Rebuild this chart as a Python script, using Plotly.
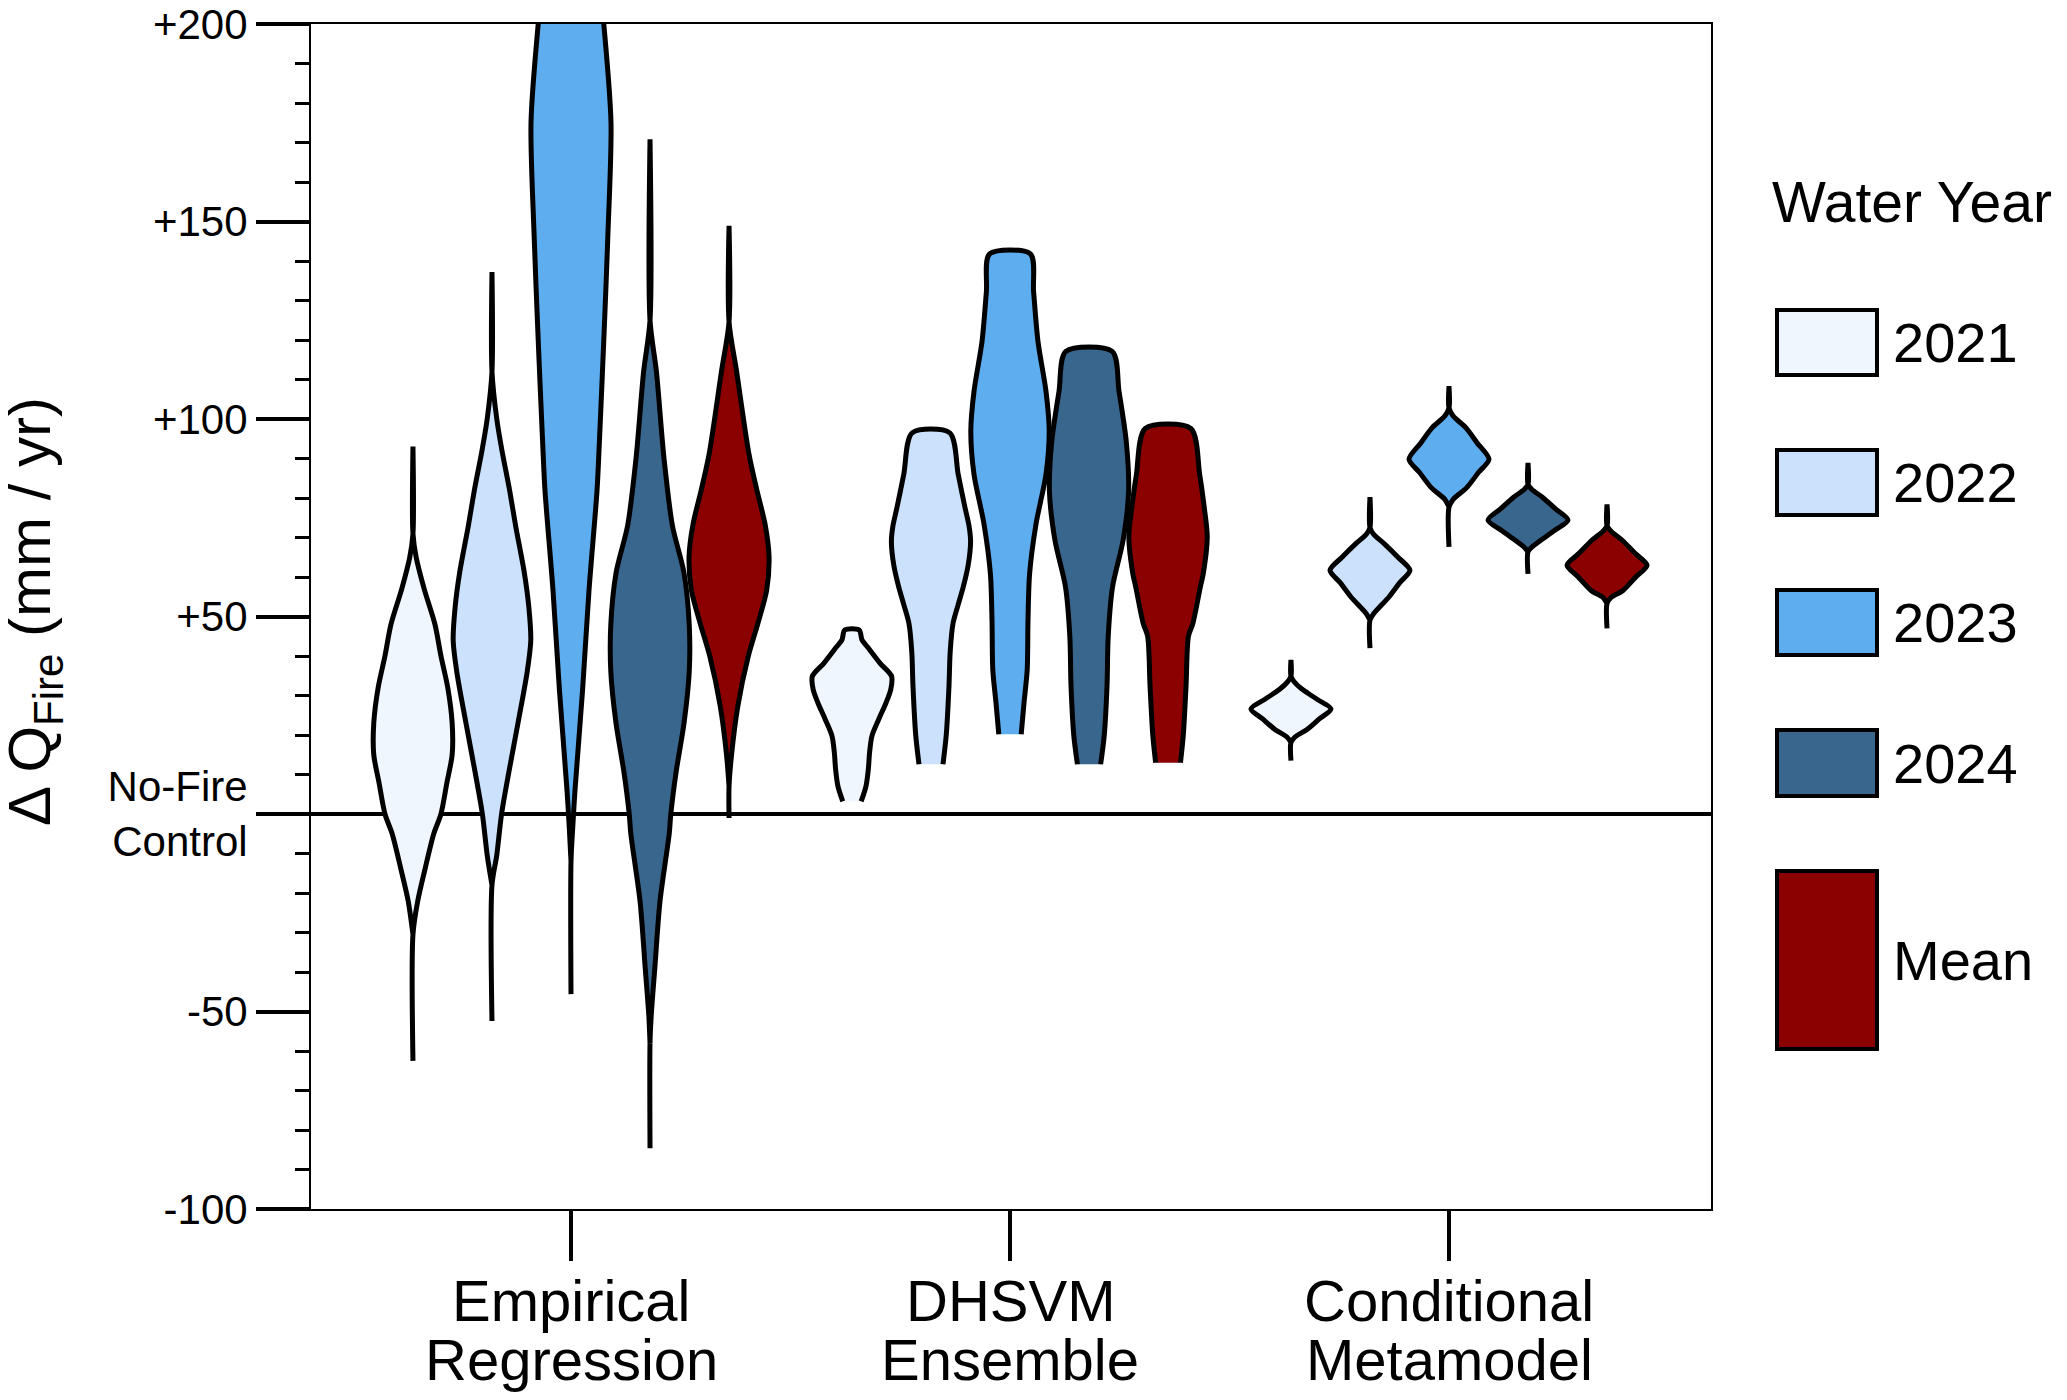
import plotly.graph_objects as go

# groups on the x axis, series inside each group
GROUPS = ["Empirical Regression", "DHSVM Ensemble", "Conditional Metamodel"]
SERIES = ["2021", "2022", "2023", "2024", "Mean"]
COLORS = ["#EFF6FE", "#CCE2FC", "#5EADEE", "#39668D", "#8B0000"]

Y_TICKS = [-100, -50, 0, 50, 100, 150, 200]
Y_TICKTEXT = ["-100", "-50", "No-Fire<br>Control", "+50", "+100", "+150", "+200"]

# violin outlines: y levels (mm/yr) and relative half-width (1 = widest)
# Empirical Regression
ER_2021_Y = [-62.5, -30.5, -22, -14, -5, 0, 8, 15, 23, 32, 40, 48, 57, 65, 71, 93]
ER_2021_W = [0, 0, 0.12, 0.30, 0.52, 0.70, 0.85, 0.98, 0.98, 0.87, 0.70, 0.55, 0.28, 0.08, 0, 0]
ER_2022_Y = [-52.4, -18, -10.4, 0, 10.5, 23, 36, 44, 52.5, 61, 73, 82, 92, 100, 112, 137.2]
ER_2022_W = [0, 0, 0.12, 0.24, 0.42, 0.65, 0.88, 0.97, 0.92, 0.81, 0.59, 0.44, 0.25, 0.12, 0, 0]
ER_2023_Y = [-45.6, -12, -4, 6, 31.5, 56.6, 81.8, 92, 120, 146, 175, 200, 220, 245]
ER_2023_W = [0, 0, 0.04, 0.10, 0.29, 0.45, 0.65, 0.70, 0.82, 0.92, 1.0, 0.82, 0.62, 0]
ER_2024_Y = [-84.6, -58, -51, -39, -22, -5, 0, 10.5, 23, 36, 48, 61, 73, 90, 112, 125, 170.8]
ER_2024_W = [0, 0, 0.03, 0.12, 0.25, 0.48, 0.52, 0.65, 0.85, 0.98, 0.98, 0.85, 0.56, 0.35, 0.16, 0, 0]
ER_MEAN_Y = [-1, 7, 14.7, 27.3, 39.9, 48.2, 56.6, 65.1, 73.4, 81.8, 91, 112, 124.6, 148.9]
ER_MEAN_W = [0, 0, 0.06, 0.22, 0.48, 0.72, 0.94, 1.0, 0.90, 0.70, 0.50, 0.19, 0, 0]

# DHSVM Ensemble (cut at the data range)
DH_2021_Y = [3.2, 7, 11.4, 15.5, 19.8, 24, 28.1, 31.5, 34.9, 38.2, 42.4, 44.1, 46.6]
DH_2021_W = [0.23, 0.35, 0.41, 0.44, 0.50, 0.67, 0.85, 0.97, 0.99, 0.70, 0.38, 0.25, 0.18]
DH_2022_Y = [12.6, 19.8, 32.4, 41, 48.2, 53, 57.6, 63, 69, 73, 77.6, 86, 96.5]
DH_2022_W = [0.30, 0.38, 0.45, 0.48, 0.55, 0.68, 0.81, 0.93, 0.99, 0.95, 0.85, 0.68, 0.47]
DH_2023_Y = [20.2, 28.1, 36.5, 49.1, 60.8, 73.4, 86, 96.9, 107, 119.6, 132.2, 141.8]
DH_2023_W = [0.28, 0.35, 0.43, 0.45, 0.49, 0.65, 0.90, 0.98, 0.90, 0.70, 0.59, 0.51]
DH_2024_Y = [12.6, 19.8, 32.4, 45, 57.6, 69.2, 81.8, 94.4, 107, 117.1]
DH_2024_W = [0.29, 0.38, 0.45, 0.48, 0.59, 0.85, 0.99, 0.93, 0.75, 0.58]
DH_MEAN_Y = [13, 19.8, 32.4, 45, 48.2, 57.6, 60.8, 70.1, 78, 86, 97.6]
DH_MEAN_W = [0.31, 0.38, 0.45, 0.51, 0.62, 0.81, 0.88, 0.98, 0.90, 0.79, 0.57]

# Conditional Metamodel
CM_2021_Y = [13.5, 18.1, 19.5, 21.4, 24, 26.6, 29, 31.5, 33.5, 34.9, 39]
CM_2021_W = [0, 0, 0.10, 0.40, 0.70, 1.0, 0.66, 0.29, 0.08, 0, 0]
CM_2022_Y = [42, 49.1, 50.8, 55, 58.5, 61.7, 65, 68.4, 70.8, 72.6, 80.2]
CM_2022_W = [0, 0, 0.10, 0.48, 0.74, 1.0, 0.70, 0.36, 0.09, 0, 0]
CM_2023_Y = [67.6, 77.7, 79.6, 82.7, 86.5, 89.8, 94, 97.8, 100.8, 102.8, 108.3]
CM_2023_W = [0, 0, 0.10, 0.45, 0.74, 1.0, 0.70, 0.42, 0.10, 0, 0]
CM_2024_Y = [60.8, 66.4, 67.6, 69.3, 71.8, 74.4, 77.3, 80.2, 82.2, 83.5, 88.9]
CM_2024_W = [0, 0, 0.10, 0.32, 0.66, 1.0, 0.68, 0.36, 0.09, 0, 0]
CM_MEAN_Y = [47, 53.3, 54.8, 56.6, 60, 63, 66, 69.3, 71.6, 73, 78.4]
CM_MEAN_W = [0, 0, 0.10, 0.40, 0.72, 1.0, 0.70, 0.38, 0.10, 0, 0]

PROFILES = [
    [(ER_2021_Y, ER_2021_W), (ER_2022_Y, ER_2022_W), (ER_2023_Y, ER_2023_W),
     (ER_2024_Y, ER_2024_W), (ER_MEAN_Y, ER_MEAN_W)],
    [(DH_2021_Y, DH_2021_W), (DH_2022_Y, DH_2022_W), (DH_2023_Y, DH_2023_W),
     (DH_2024_Y, DH_2024_W), (DH_MEAN_Y, DH_MEAN_W)],
    [(CM_2021_Y, CM_2021_W), (CM_2022_Y, CM_2022_W), (CM_2023_Y, CM_2023_W),
     (CM_2024_Y, CM_2024_W), (CM_MEAN_Y, CM_MEAN_W)],
]

FONT = "Liberation Sans, Arial, sans-serif"
PAGE_W, PAGE_H = 2067, 1400
BODY = 8                            # default page margin around the plot div
W, H = PAGE_W - 2 * BODY, PAGE_H - 2 * BODY
L, R, T, B = 311, 1711, 24, 1209   # plot area in page pixels
GROUP_STEP = 439                    # pixels between group centres
OFFSET = 0.18                       # spacing of violins inside a group (x units)
HALF = 40 / GROUP_STEP              # widest half-width (x units)


def outline(cx, ys, ws):
    # right side going up, left side coming back down
    xs = [cx + w * HALF for w in ws]
    yy = list(ys)
    back_w = list(reversed(ws))
    back_y = list(reversed(ys))
    if ws[-1] == 0:
        back_w, back_y = back_w[1:], back_y[1:]
    if ws[0] == 0:
        back_w, back_y = back_w[:-1], back_y[:-1]
    xs += [cx - w * HALF for w in back_w]
    yy += back_y
    return xs, yy


fig = go.Figure()
for gi, group in enumerate(PROFILES):
    for si, (ys, ws) in enumerate(group):
        cx = gi + (si - 2) * OFFSET
        xs, yy = outline(cx, ys, ws)
        fig.add_trace(go.Scatter(
            x=xs, y=yy, mode="lines", fill="toself",
            fillcolor=COLORS[si],
            line=dict(color="black", width=5, shape="spline", smoothing=0.8),
            name=SERIES[si], showlegend=False, hoverinfo="skip"))

x_lo = (L - (L + 260)) / GROUP_STEP
x_hi = (R - (L + 260)) / GROUP_STEP

fig.update_xaxes(
    range=[x_lo, x_hi], tickmode="array", tickvals=list(range(len(GROUPS))),
    showticklabels=False,
    ticks="outside", ticklen=50, tickwidth=4, tickcolor="black",
    showline=True, linewidth=2, linecolor="black", mirror=True,
    showgrid=False, zeroline=False, automargin=False)
fig.update_yaxes(
    range=[-100, 200], tickmode="array", tickvals=Y_TICKS, ticktext=Y_TICKTEXT,
    ticks="outside", ticklen=53, tickwidth=4, tickcolor="black",
    minor=dict(tickmode="linear", tick0=0, dtick=10, ticks="outside",
               ticklen=14, tickwidth=3, tickcolor="black", showgrid=False),
    showline=True, linewidth=2, linecolor="black", mirror=True,
    showgrid=False, zeroline=True, zerolinewidth=4, zerolinecolor="black",
    automargin=False, ticklabeloverflow="allow",
    tickfont=dict(family=FONT, size=42, color="black"))


def px_x(p):
    return (p - L) / (R - L)


def px_y(p):
    return (B - p) / (B - T)


# group names under the ticks, one annotation per line (tighter line spacing)
for gi, name in enumerate(GROUPS):
    for li, part in enumerate(name.split(" ")):
        fig.add_annotation(xref="x", yref="paper", x=gi, y=px_y(1300 + 59 * li),
                           text=part, showarrow=False, xanchor="center", yanchor="middle",
                           font=dict(family=FONT, size=58, color="black"))

# legend drawn by hand: boxes and labels
box_top = [310, 450, 590, 730, 871]
box_bot = [375, 515, 655, 796, 1049]
for si, name in enumerate(SERIES):
    fig.add_shape(type="rect", xref="paper", yref="paper",
                  x0=px_x(1777), x1=px_x(1877), y0=px_y(box_bot[si]), y1=px_y(box_top[si]),
                  fillcolor=COLORS[si], line=dict(color="black", width=4))
    fig.add_annotation(xref="paper", yref="paper", x=px_x(1891),
                       y=px_y((box_top[si] + box_bot[si]) / 2), text=name,
                       showarrow=False, xanchor="left", yanchor="middle",
                       font=dict(family=FONT, size=56, color="black"))
fig.add_annotation(xref="paper", yref="paper", x=px_x(1770), y=px_y(202),
                   text="Water Year", showarrow=False, xanchor="left", yanchor="middle",
                   font=dict(family=FONT, size=57, color="black"))

# y axis title
fig.add_annotation(xref="paper", yref="paper", x=px_x(34), y=px_y(612),
                   text="Δ Q<sub>Fire</sub> (mm / yr)", textangle=-90, showarrow=False,
                   xanchor="center", yanchor="middle",
                   font=dict(family=FONT, size=60, color="black"))

fig.update_layout(
    width=W, height=H, template="none",
    margin=dict(l=L - BODY, r=(PAGE_W - BODY) - R, t=T - BODY, b=(PAGE_H - BODY) - B, pad=0),
    plot_bgcolor="white", paper_bgcolor="white",
    showlegend=False)

fig.write_html("out.html")
